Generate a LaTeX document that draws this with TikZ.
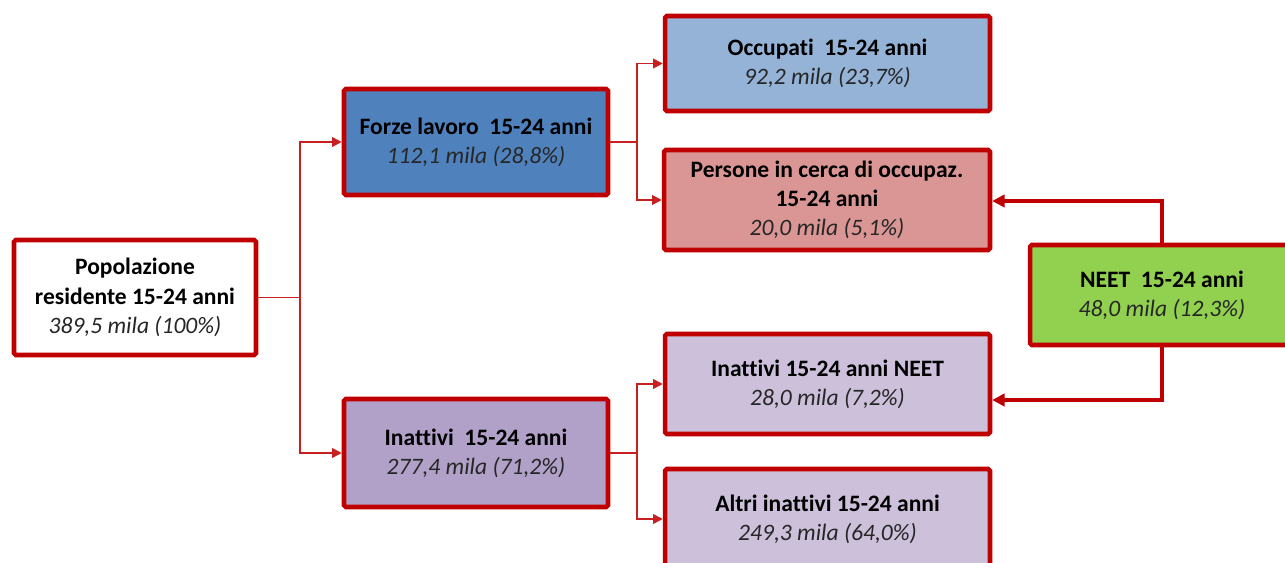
\documentclass[tikz,border=0pt]{standalone}
\usepackage{fontspec}
\setmainfont{Carlito}[Ligatures=NoCommon]
\usetikzlibrary{arrows.meta,calc}
\definecolor{bord}{HTML}{C00000}
\definecolor{thin}{HTML}{C82020}
\definecolor{cforze}{HTML}{4F81BD}
\definecolor{cocc}{HTML}{95B3D7}
\definecolor{cpers}{HTML}{DA9694}
\definecolor{cinatt}{HTML}{B1A0C7}
\definecolor{cinlight}{HTML}{CCC0DA}
\definecolor{cneet}{HTML}{92D050}
\definecolor{ctxt}{HTML}{262626}
\begin{document}
\begin{tikzpicture}[x=0.02cm,y=-0.02cm,
  box/.style={draw=bord,line width=2.6pt,rounded corners=1pt,align=center,
    inner sep=2pt,font=\fontsize{13.4}{16.6}\selectfont,text=black},
  conn/.style={draw=thin,line width=0.9pt,-{Triangle[length=5.5pt,width=5.5pt]}},
  conn0/.style={draw=thin,line width=0.9pt},
  nconn/.style={draw=bord,line width=2pt,-{Triangle[length=7pt,width=7pt]}}]
\clip (0,0) rectangle (1285,563);
\fill[white] (0,0) rectangle (1285,563);
\newcommand{\vl}[1]{{\itshape\color{ctxt}#1}}
\node[box,fill=white,minimum width=4.84cm,minimum height=2.30cm] (pop) at (135,297.5)
  {\textbf{Popolazione}\\ \textbf{residente 15-24 anni}\\ \vl{389,5 mila (100\%)}};
\node[box,fill=cforze,minimum width=5.28cm,minimum height=2.12cm] (forze) at (476,142)
  {\textbf{Forze lavoro\ \ 15-24 anni}\\ \vl{112,1 mila (28,8\%)}};
\node[box,fill=cinatt,minimum width=5.28cm,minimum height=2.16cm] (inatt) at (476,453)
  {\textbf{Inattivi\ \ 15-24 anni}\\ \vl{277,4 mila (71,2\%)}};
\node[box,fill=cocc,minimum width=6.50cm,minimum height=1.90cm] (occ) at (827.5,63.5)
  {\textbf{Occupati\ \ 15-24 anni}\\ \vl{92,2 mila (23,7\%)}};
\node[box,fill=cpers,minimum width=6.52cm,minimum height=2.00cm] (pers) at (827,200)
  {\textbf{Persone in cerca di occupaz.}\\ \textbf{15-24 anni}\\ \vl{20,0 mila (5,1\%)}};
\node[box,fill=cinlight,minimum width=6.50cm,minimum height=2.00cm] (inneet) at (827.5,384)
  {\textbf{Inattivi 15-24 anni NEET}\\ \vl{28,0 mila (7,2\%)}};
\node[box,fill=cinlight,minimum width=6.50cm,minimum height=2.00cm] (altri) at (827.5,519)
  {\textbf{Altri inattivi 15-24 anni}\\ \vl{249,3 mila (64,0\%)}};
\node[box,fill=cneet,minimum width=5.28cm,minimum height=2.00cm] (neet) at (1162,295)
  {\textbf{NEET\ \ 15-24 anni}\\ \vl{48,0 mila (12,3\%)}};
\coordinate (j1) at (300,297.5);
\coordinate (j2) at (637,142);
\coordinate (j3) at (637,453);
\draw[conn0] (pop.east) -- (j1);
\draw[conn] (j1) |- (forze.west);
\draw[conn] (j1) |- (inatt.west);
\draw[conn0] (forze.east) -- (j2);
\draw[conn] (j2) |- (occ.west);
\draw[conn] (j2) |- (pers.west);
\draw[conn0] (inatt.east) -- (j3);
\draw[conn] (j3) |- (inneet.west);
\draw[conn] (j3) |- (altri.west);
\draw[nconn] (neet.north) |- ($(pers.east)+(0,1)$);
\draw[nconn] (neet.south) |- ($(inneet.east)+(0,16)$);
\end{tikzpicture}
\end{document}
